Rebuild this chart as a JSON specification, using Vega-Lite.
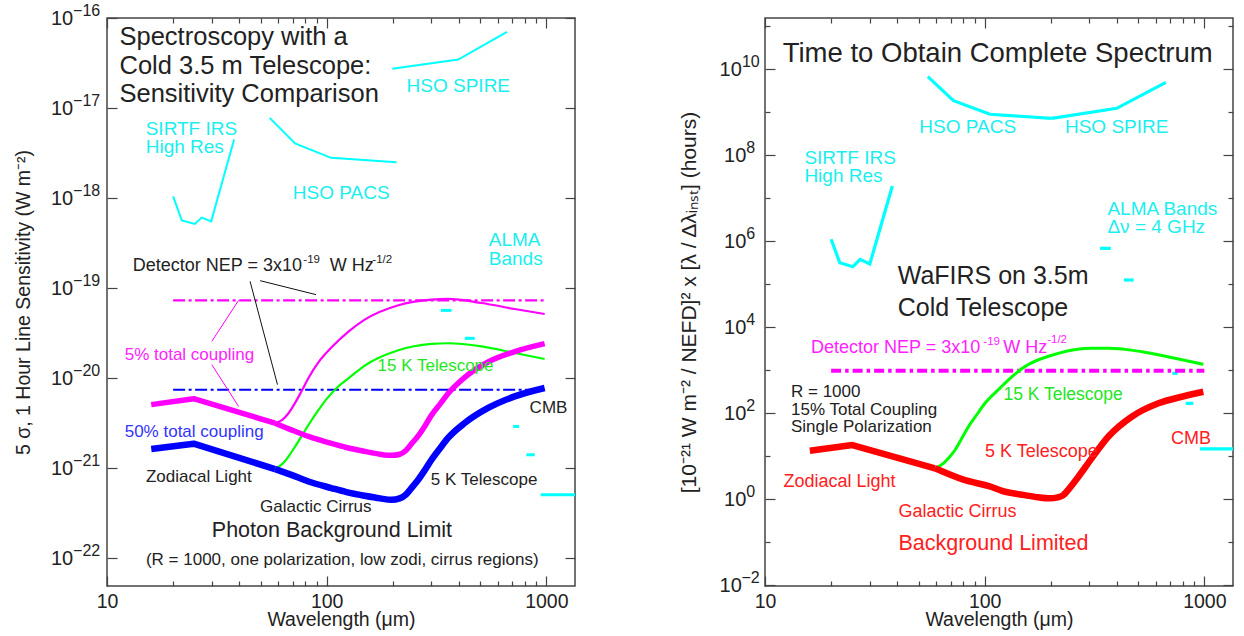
{
  "$schema": "https://vega.github.io/schema/vega-lite/v6.json",
  "background": "white",
  "padding": {"left": 12, "top": 1, "right": 5, "bottom": 5},
  "autosize": {"type": "pad"},
  "bounds": "flush",
  "spacing": 190,
  "config": {
    "view": {"stroke": "#444", "strokeWidth": 1.5},
    "font": "Liberation Sans",
    "axis": {"domain": false, "grid": false, "tickColor": "#444", "tickWidth": 1.2, "labelFont": "Liberation Sans", "labelFontSize": 19.5, "labelColor": "#222", "titleFont": "Liberation Sans", "titleFontSize": 19.5, "titleFontWeight": "normal", "titleColor": "#222", "labelOverlap": false, "labelFlush": false}
  },
  "datasets": {
    "L": [
      {"s": "sirtf", "x": 20.0, "y": 1.047e-18}, {"s": "sirtf", "x": 21.9, "y": 5.66e-19}, {"s": "sirtf", "x": 25.1, "y": 5.16e-19}, {"s": "sirtf", "x": 27.0, "y": 6.07e-19}, {"s": "sirtf", "x": 29.8, "y": 5.52e-19}, {"s": "sirtf", "x": 37.9, "y": 4.47e-18},
      {"s": "pacs", "x": 55, "y": 7.78e-18}, {"s": "pacs", "x": 71.8, "y": 4.04e-18}, {"s": "pacs", "x": 104.7, "y": 2.80e-18}, {"s": "pacs", "x": 208, "y": 2.50e-18},
      {"s": "spire", "x": 199, "y": 2.73e-17}, {"s": "spire", "x": 397, "y": 3.46e-17}, {"s": "spire", "x": 662, "y": 7.03e-17},
      {"s": "mag15", "x": 58.2, "y": 3.162e-21}, {"s": "mag15", "x": 63, "y": 3.467e-21}, {"s": "mag15", "x": 67, "y": 4.074e-21}, {"s": "mag15", "x": 72, "y": 5.370e-21}, {"s": "mag15", "x": 77, "y": 7.244e-21}, {"s": "mag15", "x": 83, "y": 1.023e-20}, {"s": "mag15", "x": 92, "y": 1.514e-20}, {"s": "mag15", "x": 105, "y": 2.188e-20}, {"s": "mag15", "x": 126, "y": 3.311e-20}, {"s": "mag15", "x": 149, "y": 4.467e-20}, {"s": "mag15", "x": 212, "y": 6.457e-20}, {"s": "mag15", "x": 300, "y": 7.447e-20}, {"s": "mag15", "x": 357, "y": 7.586e-20}, {"s": "mag15", "x": 507, "y": 6.839e-20}, {"s": "mag15", "x": 718, "y": 5.861e-20}, {"s": "mag15", "x": 982, "y": 5.164e-20},
      {"s": "grn15", "x": 58.2, "y": 9.795e-22}, {"s": "grn15", "x": 63.6, "y": 1.148e-21}, {"s": "grn15", "x": 67, "y": 1.349e-21}, {"s": "grn15", "x": 71.8, "y": 1.738e-21}, {"s": "grn15", "x": 77, "y": 2.291e-21}, {"s": "grn15", "x": 82.6, "y": 3.02e-21}, {"s": "grn15", "x": 92, "y": 4.467e-21}, {"s": "grn15", "x": 100, "y": 5.888e-21}, {"s": "grn15", "x": 112, "y": 7.943e-21}, {"s": "grn15", "x": 126, "y": 1.0e-20}, {"s": "grn15", "x": 149, "y": 1.380e-20}, {"s": "grn15", "x": 212, "y": 2.042e-20}, {"s": "grn15", "x": 300, "y": 2.399e-20}, {"s": "grn15", "x": 357, "y": 2.443e-20}, {"s": "grn15", "x": 507, "y": 2.254e-20}, {"s": "grn15", "x": 718, "y": 1.905e-20}, {"s": "grn15", "x": 982, "y": 1.633e-20},
      {"s": "magA", "x": 15.9, "y": 5.082e-21}, {"s": "magA", "x": 24.8, "y": 5.916e-21}, {"s": "magA", "x": 58.2, "y": 3.162e-21},
      {"s": "magB", "x": 58.2, "y": 3.162e-21}, {"s": "magB", "x": 70, "y": 2.630e-21}, {"s": "magB", "x": 82.6, "y": 2.254e-21}, {"s": "magB", "x": 105, "y": 1.884e-21}, {"s": "magB", "x": 123, "y": 1.698e-21}, {"s": "magB", "x": 149, "y": 1.538e-21}, {"s": "magB", "x": 175, "y": 1.429e-21}, {"s": "magB", "x": 197, "y": 1.390e-21}, {"s": "magB", "x": 215, "y": 1.429e-21}, {"s": "magB", "x": 230, "y": 1.585e-21}, {"s": "magB", "x": 245, "y": 1.905e-21}, {"s": "magB", "x": 261, "y": 2.291e-21}, {"s": "magB", "x": 280, "y": 2.951e-21}, {"s": "magB", "x": 300, "y": 3.890e-21}, {"s": "magB", "x": 330, "y": 5.248e-21}, {"s": "magB", "x": 357, "y": 6.761e-21}, {"s": "magB", "x": 425, "y": 1.023e-20}, {"s": "magB", "x": 543, "y": 1.514e-20}, {"s": "magB", "x": 718, "y": 1.972e-20}, {"s": "magB", "x": 982, "y": 2.415e-20},
      {"s": "bluA", "x": 15.9, "y": 1.633e-21}, {"s": "bluA", "x": 24.8, "y": 1.871e-21}, {"s": "bluA", "x": 58.2, "y": 9.795e-22},
      {"s": "bluB", "x": 58.2, "y": 9.795e-22}, {"s": "bluB", "x": 70, "y": 8.318e-22}, {"s": "bluB", "x": 82.6, "y": 7.129e-22}, {"s": "bluB", "x": 105, "y": 6.026e-22}, {"s": "bluB", "x": 123, "y": 5.433e-22}, {"s": "bluB", "x": 149, "y": 4.943e-22}, {"s": "bluB", "x": 175, "y": 4.624e-22}, {"s": "bluB", "x": 197, "y": 4.467e-22}, {"s": "bluB", "x": 215, "y": 4.624e-22}, {"s": "bluB", "x": 230, "y": 5.129e-22}, {"s": "bluB", "x": 245, "y": 6.166e-22}, {"s": "bluB", "x": 261, "y": 7.447e-22}, {"s": "bluB", "x": 280, "y": 9.550e-22}, {"s": "bluB", "x": 300, "y": 1.242e-21}, {"s": "bluB", "x": 330, "y": 1.698e-21}, {"s": "bluB", "x": 357, "y": 2.168e-21}, {"s": "bluB", "x": 425, "y": 3.177e-21}, {"s": "bluB", "x": 543, "y": 4.667e-21}, {"s": "bluB", "x": 718, "y": 6.281e-21}, {"s": "bluB", "x": 982, "y": 7.780e-21}
    ],
    "LS": [
      {"s": "alma", "x": 331, "x2": 370, "y": 5.66e-20, "y2": 5.66e-20},
      {"s": "alma", "x": 425, "x2": 472, "y": 2.77e-20, "y2": 2.77e-20},
      {"s": "alma", "x": 706, "x2": 752, "y": 2.91e-21, "y2": 2.91e-21},
      {"s": "alma", "x": 811, "x2": 885, "y": 1.41e-21, "y2": 1.41e-21},
      {"s": "alma", "x": 942, "x2": 1500, "y": 5.08e-22, "y2": 5.08e-22},
      {"s": "magdd", "x": 20, "x2": 1000, "y": 7.31e-20, "y2": 7.31e-20},
      {"s": "bludd", "x": 20, "x2": 860, "y": 7.45e-21, "y2": 7.45e-21},
      {"s": "blk", "x": 44.8, "x2": 59.7, "y": 1.19e-19, "y2": 8.47e-21},
      {"s": "blk", "x": 49.8, "x2": 89.4, "y": 1.21e-19, "y2": 8.47e-20},
      {"s": "magptr", "x": 30.0, "x2": 39.7, "y": 2.564e-20, "y2": 7.31e-20},
      {"s": "magptr", "x": 30.0, "x2": 39.7, "y": 1.413e-20, "y2": 4.86e-21}
    ],
    "LT": [
      {"t": "Spectroscopy with a", "x": 11.4, "y": 4.99e-17, "g": "title"},
      {"t": "Cold 3.5 m Telescope:", "x": 11.4, "y": 2.40e-17, "g": "title"},
      {"t": "Sensitivity Comparison", "x": 11.4, "y": 1.16e-17, "g": "title"},
      {"t": "SIRTF IRS", "x": 15.0, "y": 5.08e-18, "g": "cyan"},
      {"t": "High Res", "x": 15.0, "y": 3.16e-18, "g": "cyan"},
      {"t": "HSO PACS", "x": 70.1, "y": 9.87e-19, "g": "cyan"},
      {"t": "HSO SPIRE", "x": 231, "y": 1.50e-17, "g": "cyan"},
      {"t": "ALMA", "x": 547, "y": 2.96e-19, "g": "cyan"},
      {"t": "Bands", "x": 547, "y": 1.82e-19, "g": "cyan"},
      {"t": "Detector NEP = 3x10", "x": 13.09, "y": 1.54e-19, "g": "nep"},
      {"t": "-19", "x": 78.3, "y": 1.905e-19, "g": "nepsup"},
      {"t": "W Hz", "x": 103.2, "y": 1.54e-19, "g": "nep"},
      {"t": "-1/2", "x": 161.4, "y": 1.905e-19, "g": "nepsup"},
      {"t": "5% total coupling", "x": 12.04, "y": 1.58e-20, "g": "mag"},
      {"t": "50% total coupling", "x": 12.04, "y": 2.25e-21, "g": "blu"},
      {"t": "15 K Telescope", "x": 170.5, "y": 1.19e-20, "g": "grn"},
      {"t": "CMB", "x": 839, "y": 4.1e-21, "g": "blk"},
      {"t": "Zodiacal Light", "x": 15.04, "y": 6.95e-22, "g": "blk"},
      {"t": "5 K Telescope", "x": 298, "y": 6.44e-22, "g": "blk"},
      {"t": "Galactic Cirrus", "x": 49.75, "y": 3.26e-22, "g": "blk"},
      {"t": "Photon Background Limit", "x": 30.0, "y": 1.72e-22, "g": "big"},
      {"t": "(R = 1000, one polarization, low zodi, cirrus regions)", "x": 15.04, "y": 8.48e-23, "g": "blk"}
    ],
    "R": [
      {"s": "sirtf", "x": 20.0, "y": 1.096e6}, {"s": "sirtf", "x": 21.9, "y": 3.126e5}, {"s": "sirtf", "x": 25.1, "y": 2.523e5}, {"s": "sirtf", "x": 27.1, "y": 3.750e5}, {"s": "sirtf", "x": 30.0, "y": 2.917e5}, {"s": "sirtf", "x": 38.0, "y": 1.901e7},
      {"s": "pacs", "x": 55.1, "y": 6.63e9}, {"s": "pacs", "x": 72.1, "y": 1.83e9}, {"s": "pacs", "x": 105.7, "y": 8.85e8}, {"s": "pacs", "x": 202, "y": 7.13e8},
      {"s": "spire", "x": 202, "y": 7.13e8}, {"s": "spire", "x": 399, "y": 1.22e9}, {"s": "spire", "x": 668, "y": 4.91e9},
      {"s": "grn15", "x": 59.4, "y": 5.176}, {"s": "grn15", "x": 64.9, "y": 6.761}, {"s": "grn15", "x": 69, "y": 9.333}, {"s": "grn15", "x": 73.3, "y": 13.80}, {"s": "grn15", "x": 78, "y": 23.99}, {"s": "grn15", "x": 84.3, "y": 47.97}, {"s": "grn15", "x": 92, "y": 91.20}, {"s": "grn15", "x": 100.3, "y": 168.3}, {"s": "grn15", "x": 117.4, "y": 380.2}, {"s": "grn15", "x": 128, "y": 584.8}, {"s": "grn15", "x": 152, "y": 1194}, {"s": "grn15", "x": 216, "y": 2443}, {"s": "grn15", "x": 307, "y": 3199}, {"s": "grn15", "x": 365, "y": 3199}, {"s": "grn15", "x": 519, "y": 2667}, {"s": "grn15", "x": 735, "y": 1871}, {"s": "grn15", "x": 989, "y": 1358},
      {"s": "redA", "x": 16.0, "y": 13.27}, {"s": "redA", "x": 25.0, "y": 18.03}, {"s": "redA", "x": 59.4, "y": 5.176},
      {"s": "redB", "x": 59.4, "y": 5.176}, {"s": "redB", "x": 80, "y": 2.818}, {"s": "redB", "x": 107.6, "y": 1.905}, {"s": "redB", "x": 120, "y": 1.549}, {"s": "redB", "x": 152, "y": 1.230}, {"s": "redB", "x": 175, "y": 1.096}, {"s": "redB", "x": 198, "y": 1.038}, {"s": "redB", "x": 215, "y": 1.096}, {"s": "redB", "x": 228, "y": 1.239}, {"s": "redB", "x": 245, "y": 1.862}, {"s": "redB", "x": 267, "y": 3.304}, {"s": "redB", "x": 307, "y": 8.851}, {"s": "redB", "x": 365, "y": 28.12}, {"s": "redB", "x": 467, "y": 82.04}, {"s": "redB", "x": 618, "y": 168.3}, {"s": "redB", "x": 789, "y": 239.3}, {"s": "redB", "x": 989, "y": 312.6}
    ],
    "RS": [
      {"s": "alma", "x": 335, "x2": 375, "y": 6.76e5, "y2": 6.76e5},
      {"s": "alma", "x": 430, "x2": 476, "y": 1.24e5, "y2": 1.24e5},
      {"s": "alma", "x": 715, "x2": 755, "y": 838, "y2": 838},
      {"s": "alma", "x": 822, "x2": 891, "y": 168, "y2": 168},
      {"s": "alma", "x": 955, "x2": 1500, "y": 14.6, "y2": 14.6},
      {"s": "magdd", "x": 20, "x2": 1000, "y": 964, "y2": 964}
    ],
    "RT": [
      {"t": "Time to Obtain Complete Spectrum", "x": 12.04, "y": 1.48e10, "g": "title"},
      {"t": "HSO PACS", "x": 50.4, "y": 3.2e8, "g": "cyan"},
      {"t": "HSO SPIRE", "x": 232, "y": 3.2e8, "g": "cyan"},
      {"t": "SIRTF IRS", "x": 15.11, "y": 6.18e7, "g": "cyan"},
      {"t": "High Res", "x": 15.11, "y": 2.3e7, "g": "cyan"},
      {"t": "ALMA Bands", "x": 362, "y": 4.03e6, "g": "cyan"},
      {"t": "Δν = 4 GHz", "x": 362, "y": 1.51e6, "g": "cyan"},
      {"t": "WaFIRS on 3.5m", "x": 40.2, "y": 1.02e5, "g": "wa"},
      {"t": "Cold Telescope", "x": 40.2, "y": 1.77e4, "g": "wa"},
      {"t": "Detector NEP = 3x10", "x": 16.2, "y": 2440, "g": "nep"},
      {"t": "-19", "x": 98.6, "y": 3810, "g": "nepsup"},
      {"t": "W Hz", "x": 121.4, "y": 2440, "g": "nep"},
      {"t": "-1/2", "x": 192.5, "y": 4250, "g": "nepsup"},
      {"t": "R = 1000", "x": 13.13, "y": 239, "g": "blk"},
      {"t": "15% Total Coupling", "x": 13.13, "y": 89.7, "g": "blk"},
      {"t": "Single Polarization", "x": 13.13, "y": 36.7, "g": "blk"},
      {"t": "15 K Telescope", "x": 121.7, "y": 200, "g": "grn"},
      {"t": "5 K Telescope", "x": 100.3, "y": 9.64, "g": "red"},
      {"t": "CMB", "x": 705, "y": 19.0, "g": "red"},
      {"t": "Zodiacal Light", "x": 12.13, "y": 1.93, "g": "red"},
      {"t": "Galactic Cirrus", "x": 40.5, "y": 0.387, "g": "red"},
      {"t": "Background Limited", "x": 40.5, "y": 0.0652, "g": "redbig"}
    ]
  },
  "hconcat": [
    {
      "width": 468,
      "height": 568,
      "resolve": {"axis": {"x": "independent", "y": "independent"}},
      "layer": [
        {
          "data": {"name": "L"},
          "transform": [{"filter": "datum.s == 'sirtf' || datum.s == 'pacs' || datum.s == 'spire'"}],
          "mark": {"type": "line", "color": "#00ffff", "strokeWidth": 2, "clip": true},
          "encoding": {
            "x": {"field": "x", "type": "quantitative", "scale": {"type": "log", "domain": [10, 1350], "nice": false},
              "axis": {"orient": "bottom", "values": [10, 20, 30, 40, 50, 60, 70, 80, 90, 100, 200, 300, 400, 500, 600, 700, 800, 900, 1000], "labelExpr": "datum.value == 10 ? '10' : datum.value == 100 ? '100' : datum.value == 1000 ? '1000' : ''", "tickSize": {"condition": {"test": "datum.value == 10 || datum.value == 100 || datum.value == 1000", "value": -10}, "value": -5}, "labelPadding": 16, "title": "Wavelength (μm)", "titleY": 24.5, "titleBaseline": "top"}},
            "y": {"field": "y", "type": "quantitative", "scale": {"type": "log", "domain": [4.92e-23, 1e-16], "nice": false},
              "axis": {"orient": "left", "values": [1e-22, 1e-21, 1e-20, 1e-19, 1e-18, 1e-17, 1e-16], "labelExpr": "'10'", "labelFontSize": 20, "tickSize": -10, "labelPadding": 44.3, "title": "5 σ, 1 Hour Line Sensitivity (W m⁻²)", "titleX": -73.9, "titleBaseline": "bottom"}},
            "detail": {"field": "s"}
          }
        },
        {
          "data": {"name": "LS"},
          "transform": [{"filter": "datum.s == 'alma'"}],
          "mark": {"type": "rule", "color": "#00ffff", "strokeWidth": 3, "clip": true},
          "encoding": {
            "x": {"field": "x", "type": "quantitative", "scale": {"type": "log", "domain": [10, 1350], "nice": false},
              "axis": {"orient": "top", "values": [10, 20, 30, 40, 50, 60, 70, 80, 90, 100, 200, 300, 400, 500, 600, 700, 800, 900, 1000], "labels": false, "tickSize": {"condition": {"test": "datum.value == 10 || datum.value == 100 || datum.value == 1000", "value": -10}, "value": -5}, "title": null}},
            "x2": {"field": "x2"},
            "y": {"field": "y", "type": "quantitative", "scale": {"type": "log", "domain": [4.92e-23, 1e-16], "nice": false},
              "axis": {"orient": "right", "values": [1e-22, 1e-21, 1e-20, 1e-19, 1e-18, 1e-17, 1e-16], "labels": false, "tickSize": -10, "title": null}},
            "y2": {"field": "y2"}
          }
        },
        {
          "data": {"name": "LS"},
          "transform": [{"filter": "datum.s == 'magdd'"}],
          "mark": {"type": "rule", "color": "#ff00ff", "strokeWidth": 2.2, "strokeDash": [12, 3.5, 3, 3.5], "clip": true},
          "encoding": {"x": {"field": "x", "type": "quantitative", "scale": {"type": "log", "domain": [10, 1350], "nice": false}, "axis": null}, "x2": {"field": "x2"},
            "y": {"field": "y", "type": "quantitative", "scale": {"type": "log", "domain": [4.92e-23, 1e-16], "nice": false},
              "axis": {"orient": "left", "values": [1e-22, 1e-21, 1e-20, 1e-19, 1e-18, 1e-17, 1e-16], "labelExpr": "['−22','−21','−20','−19','−18','−17','−16'][round(log(datum.value)/LN10)+22]", "labelFontSize": 16, "labelOffset": -7.8, "tickSize": -10, "tickOpacity": 0, "labelPadding": 17.3, "title": null}},
            "y2": {"field": "y2"}}
        },
        {
          "data": {"name": "LS"},
          "transform": [{"filter": "datum.s == 'bludd'"}],
          "mark": {"type": "rule", "color": "#0000ff", "strokeWidth": 2, "strokeDash": [12, 3.5, 3, 3.5], "clip": true},
          "encoding": {"x": {"field": "x", "type": "quantitative", "scale": {"type": "log", "domain": [10, 1350], "nice": false}, "axis": null}, "x2": {"field": "x2"}, "y": {"field": "y", "type": "quantitative", "scale": {"type": "log", "domain": [4.92e-23, 1e-16], "nice": false}, "axis": null}, "y2": {"field": "y2"}}
        },
        {
          "data": {"name": "LS"},
          "transform": [{"filter": "datum.s == 'blk'"}],
          "mark": {"type": "rule", "color": "#111", "strokeWidth": 1, "clip": true},
          "encoding": {"x": {"field": "x", "type": "quantitative", "scale": {"type": "log", "domain": [10, 1350], "nice": false}, "axis": null}, "x2": {"field": "x2"}, "y": {"field": "y", "type": "quantitative", "scale": {"type": "log", "domain": [4.92e-23, 1e-16], "nice": false}, "axis": null}, "y2": {"field": "y2"}}
        },
        {
          "data": {"name": "LS"},
          "transform": [{"filter": "datum.s == 'magptr'"}],
          "mark": {"type": "rule", "color": "#ff00ff", "strokeWidth": 1, "clip": true},
          "encoding": {"x": {"field": "x", "type": "quantitative", "scale": {"type": "log", "domain": [10, 1350], "nice": false}, "axis": null}, "x2": {"field": "x2"}, "y": {"field": "y", "type": "quantitative", "scale": {"type": "log", "domain": [4.92e-23, 1e-16], "nice": false}, "axis": null}, "y2": {"field": "y2"}}
        },
        {
          "data": {"name": "L"},
          "transform": [{"filter": "datum.s == 'mag15'"}],
          "mark": {"type": "line", "color": "#ff00ff", "strokeWidth": 2.2, "interpolate": "monotone", "clip": true},
          "encoding": {"x": {"field": "x", "type": "quantitative", "scale": {"type": "log", "domain": [10, 1350], "nice": false}, "axis": null}, "y": {"field": "y", "type": "quantitative", "scale": {"type": "log", "domain": [4.92e-23, 1e-16], "nice": false}, "axis": null}}
        },
        {
          "data": {"name": "L"},
          "transform": [{"filter": "datum.s == 'grn15'"}],
          "mark": {"type": "line", "color": "#00ff00", "strokeWidth": 2.2, "interpolate": "monotone", "clip": true},
          "encoding": {"x": {"field": "x", "type": "quantitative", "scale": {"type": "log", "domain": [10, 1350], "nice": false}, "axis": null}, "y": {"field": "y", "type": "quantitative", "scale": {"type": "log", "domain": [4.92e-23, 1e-16], "nice": false}, "axis": null}}
        },
        {
          "data": {"name": "L"},
          "transform": [{"filter": "datum.s == 'magA'"}],
          "mark": {"type": "line", "color": "#ff00ff", "strokeWidth": 5.5, "strokeJoin": "round", "clip": true},
          "encoding": {"x": {"field": "x", "type": "quantitative", "scale": {"type": "log", "domain": [10, 1350], "nice": false}, "axis": null}, "y": {"field": "y", "type": "quantitative", "scale": {"type": "log", "domain": [4.92e-23, 1e-16], "nice": false}, "axis": null}}
        },
        {
          "data": {"name": "L"},
          "transform": [{"filter": "datum.s == 'magB'"}],
          "mark": {"type": "line", "color": "#ff00ff", "strokeWidth": 5.5, "interpolate": "monotone", "clip": true},
          "encoding": {"x": {"field": "x", "type": "quantitative", "scale": {"type": "log", "domain": [10, 1350], "nice": false}, "axis": null}, "y": {"field": "y", "type": "quantitative", "scale": {"type": "log", "domain": [4.92e-23, 1e-16], "nice": false}, "axis": null}}
        },
        {
          "data": {"name": "L"},
          "transform": [{"filter": "datum.s == 'bluA'"}],
          "mark": {"type": "line", "color": "#0000ff", "strokeWidth": 6.5, "strokeJoin": "round", "clip": true},
          "encoding": {"x": {"field": "x", "type": "quantitative", "scale": {"type": "log", "domain": [10, 1350], "nice": false}, "axis": null}, "y": {"field": "y", "type": "quantitative", "scale": {"type": "log", "domain": [4.92e-23, 1e-16], "nice": false}, "axis": null}}
        },
        {
          "data": {"name": "L"},
          "transform": [{"filter": "datum.s == 'bluB'"}],
          "mark": {"type": "line", "color": "#0000ff", "strokeWidth": 6.5, "interpolate": "monotone", "clip": true},
          "encoding": {"x": {"field": "x", "type": "quantitative", "scale": {"type": "log", "domain": [10, 1350], "nice": false}, "axis": null}, "y": {"field": "y", "type": "quantitative", "scale": {"type": "log", "domain": [4.92e-23, 1e-16], "nice": false}, "axis": null}}
        },
        {
          "data": {"name": "LT"},
          "transform": [{"filter": "datum.g == 'title'"}],
          "mark": {"type": "text", "align": "left", "baseline": "alphabetic", "font": "Liberation Sans", "fontSize": 25.5, "color": "#222"},
          "encoding": {"x": {"field": "x", "type": "quantitative", "scale": {"type": "log", "domain": [10, 1350], "nice": false}, "axis": null}, "y": {"field": "y", "type": "quantitative", "scale": {"type": "log", "domain": [4.92e-23, 1e-16], "nice": false}, "axis": null}, "text": {"field": "t"}}
        },
        {
          "data": {"name": "LT"},
          "transform": [{"filter": "datum.g == 'cyan'"}],
          "mark": {"type": "text", "align": "left", "baseline": "alphabetic", "font": "Liberation Sans", "fontSize": 19, "color": "#1aeeee"},
          "encoding": {"x": {"field": "x", "type": "quantitative", "scale": {"type": "log", "domain": [10, 1350], "nice": false}, "axis": null}, "y": {"field": "y", "type": "quantitative", "scale": {"type": "log", "domain": [4.92e-23, 1e-16], "nice": false}, "axis": null}, "text": {"field": "t"}}
        },
        {
          "data": {"name": "LT"},
          "transform": [{"filter": "datum.g == 'blk'"}],
          "mark": {"type": "text", "align": "left", "baseline": "alphabetic", "font": "Liberation Sans", "fontSize": 17, "color": "#222"},
          "encoding": {"x": {"field": "x", "type": "quantitative", "scale": {"type": "log", "domain": [10, 1350], "nice": false}, "axis": null}, "y": {"field": "y", "type": "quantitative", "scale": {"type": "log", "domain": [4.92e-23, 1e-16], "nice": false}, "axis": null}, "text": {"field": "t"}}
        },
        {
          "data": {"name": "LT"},
          "transform": [{"filter": "datum.g == 'nep'"}],
          "mark": {"type": "text", "align": "left", "baseline": "alphabetic", "font": "Liberation Sans", "fontSize": 18, "color": "#222"},
          "encoding": {"x": {"field": "x", "type": "quantitative", "scale": {"type": "log", "domain": [10, 1350], "nice": false}, "axis": null}, "y": {"field": "y", "type": "quantitative", "scale": {"type": "log", "domain": [4.92e-23, 1e-16], "nice": false}, "axis": null}, "text": {"field": "t"}}
        },
        {
          "data": {"name": "LT"},
          "transform": [{"filter": "datum.g == 'nepsup'"}],
          "mark": {"type": "text", "align": "left", "baseline": "alphabetic", "font": "Liberation Sans", "fontSize": 11.5, "color": "#222"},
          "encoding": {"x": {"field": "x", "type": "quantitative", "scale": {"type": "log", "domain": [10, 1350], "nice": false}, "axis": null}, "y": {"field": "y", "type": "quantitative", "scale": {"type": "log", "domain": [4.92e-23, 1e-16], "nice": false}, "axis": null}, "text": {"field": "t"}}
        },
        {
          "data": {"name": "LT"},
          "transform": [{"filter": "datum.g == 'mag'"}],
          "mark": {"type": "text", "align": "left", "baseline": "alphabetic", "font": "Liberation Sans", "fontSize": 17, "color": "#ff22ff"},
          "encoding": {"x": {"field": "x", "type": "quantitative", "scale": {"type": "log", "domain": [10, 1350], "nice": false}, "axis": null}, "y": {"field": "y", "type": "quantitative", "scale": {"type": "log", "domain": [4.92e-23, 1e-16], "nice": false}, "axis": null}, "text": {"field": "t"}}
        },
        {
          "data": {"name": "LT"},
          "transform": [{"filter": "datum.g == 'blu'"}],
          "mark": {"type": "text", "align": "left", "baseline": "alphabetic", "font": "Liberation Sans", "fontSize": 17, "color": "#3333ff"},
          "encoding": {"x": {"field": "x", "type": "quantitative", "scale": {"type": "log", "domain": [10, 1350], "nice": false}, "axis": null}, "y": {"field": "y", "type": "quantitative", "scale": {"type": "log", "domain": [4.92e-23, 1e-16], "nice": false}, "axis": null}, "text": {"field": "t"}}
        },
        {
          "data": {"name": "LT"},
          "transform": [{"filter": "datum.g == 'grn'"}],
          "mark": {"type": "text", "align": "left", "baseline": "alphabetic", "font": "Liberation Sans", "fontSize": 17, "color": "#22e622"},
          "encoding": {"x": {"field": "x", "type": "quantitative", "scale": {"type": "log", "domain": [10, 1350], "nice": false}, "axis": null}, "y": {"field": "y", "type": "quantitative", "scale": {"type": "log", "domain": [4.92e-23, 1e-16], "nice": false}, "axis": null}, "text": {"field": "t"}}
        },
        {
          "data": {"name": "LT"},
          "transform": [{"filter": "datum.g == 'big'"}],
          "mark": {"type": "text", "align": "left", "baseline": "alphabetic", "font": "Liberation Sans", "fontSize": 21.5, "color": "#222"},
          "encoding": {"x": {"field": "x", "type": "quantitative", "scale": {"type": "log", "domain": [10, 1350], "nice": false}, "axis": null}, "y": {"field": "y", "type": "quantitative", "scale": {"type": "log", "domain": [4.92e-23, 1e-16], "nice": false}, "axis": null}, "text": {"field": "t"}}
        }
      ]
    },
    {
      "width": 468,
      "height": 568,
      "resolve": {"axis": {"x": "independent", "y": "independent"}},
      "layer": [
        {
          "data": {"name": "R"},
          "transform": [{"filter": "datum.s == 'sirtf' || datum.s == 'pacs' || datum.s == 'spire'"}],
          "mark": {"type": "line", "color": "#00ffff", "strokeWidth": 3.2, "clip": true},
          "encoding": {
            "x": {"field": "x", "type": "quantitative", "scale": {"type": "log", "domain": [10, 1350], "nice": false},
              "axis": {"orient": "bottom", "values": [10, 20, 30, 40, 50, 60, 70, 80, 90, 100, 200, 300, 400, 500, 600, 700, 800, 900, 1000], "labelExpr": "datum.value == 10 ? '10' : datum.value == 100 ? '100' : datum.value == 1000 ? '1000' : ''", "tickSize": {"condition": {"test": "datum.value == 10 || datum.value == 100 || datum.value == 1000", "value": -10}, "value": -5}, "labelPadding": 16, "title": "Wavelength (μm)", "titleY": 24.5, "titleBaseline": "top"}},
            "y": {"field": "y", "type": "quantitative", "scale": {"type": "log", "domain": [0.0095, 1.535e11], "nice": false},
              "axis": {"orient": "left", "values": [0.01, 0.1, 1, 10, 100, 1000, 10000, 100000, 1000000, 10000000, 100000000, 1000000000, 10000000000, 100000000000], "labelExpr": "round(log(datum.value)/LN10) % 2 == 0 ? '10' : ''", "labelFontSize": 20, "tickSize": {"condition": {"test": "round(log(datum.value)/LN10) % 2 == 0", "value": -10}, "value": -5}, "labelPadding": {"condition": {"test": "round(log(datum.value)/LN10) == 10 || round(log(datum.value)/LN10) == -2", "value": 33.7}, "value": 29.2}, "title": "[10⁻²¹ W m⁻² / NEFD]²  x  [λ / Δλᵢₙₛₜ]   (hours)", "titleFontSize": 21, "titleX": -65.3, "titleBaseline": "bottom"}},
            "detail": {"field": "s"}
          }
        },
        {
          "data": {"name": "RS"},
          "transform": [{"filter": "datum.s == 'alma'"}],
          "mark": {"type": "rule", "color": "#00ffff", "strokeWidth": 3.2, "clip": true},
          "encoding": {
            "x": {"field": "x", "type": "quantitative", "scale": {"type": "log", "domain": [10, 1350], "nice": false},
              "axis": {"orient": "top", "values": [10, 20, 30, 40, 50, 60, 70, 80, 90, 100, 200, 300, 400, 500, 600, 700, 800, 900, 1000], "labels": false, "tickSize": {"condition": {"test": "datum.value == 10 || datum.value == 100 || datum.value == 1000", "value": -10}, "value": -5}, "title": null}},
            "x2": {"field": "x2"},
            "y": {"field": "y", "type": "quantitative", "scale": {"type": "log", "domain": [0.0095, 1.535e11], "nice": false},
              "axis": {"orient": "right", "values": [0.01, 0.1, 1, 10, 100, 1000, 10000, 100000, 1000000, 10000000, 100000000, 1000000000, 10000000000, 100000000000], "labels": false, "tickSize": {"condition": {"test": "round(log(datum.value)/LN10) % 2 == 0", "value": -10}, "value": -5}, "title": null}},
            "y2": {"field": "y2"}
          }
        },
        {
          "data": {"name": "RS"},
          "transform": [{"filter": "datum.s == 'magdd'"}],
          "mark": {"type": "rule", "color": "#ff00ff", "strokeWidth": 4, "strokeDash": [10, 4, 3.5, 4], "clip": true},
          "encoding": {"x": {"field": "x", "type": "quantitative", "scale": {"type": "log", "domain": [10, 1350], "nice": false}, "axis": null}, "x2": {"field": "x2"},
            "y": {"field": "y", "type": "quantitative", "scale": {"type": "log", "domain": [0.0095, 1.535e11], "nice": false},
              "axis": {"orient": "left", "values": [0.01, 0.1, 1, 10, 100, 1000, 10000, 100000, 1000000, 10000000, 100000000, 1000000000, 10000000000, 100000000000], "labelExpr": "['−2','','0','','2','','4','','6','','8','','10',''][round(log(datum.value)/LN10)+2]", "labelFontSize": 16, "labelOffset": -7.8, "tickSize": -10, "tickOpacity": 0, "labelPadding": {"condition": {"test": "round(log(datum.value)/LN10) == 10 || round(log(datum.value)/LN10) == -2", "value": 15.8}, "value": 20.3}, "title": null}},
            "y2": {"field": "y2"}}
        },
        {
          "data": {"name": "R"},
          "transform": [{"filter": "datum.s == 'grn15'"}],
          "mark": {"type": "line", "color": "#00ff00", "strokeWidth": 3, "interpolate": "monotone", "clip": true},
          "encoding": {"x": {"field": "x", "type": "quantitative", "scale": {"type": "log", "domain": [10, 1350], "nice": false}, "axis": null}, "y": {"field": "y", "type": "quantitative", "scale": {"type": "log", "domain": [0.0095, 1.535e11], "nice": false}, "axis": null}}
        },
        {
          "data": {"name": "R"},
          "transform": [{"filter": "datum.s == 'redA'"}],
          "mark": {"type": "line", "color": "#ff0000", "strokeWidth": 6.5, "strokeJoin": "round", "clip": true},
          "encoding": {"x": {"field": "x", "type": "quantitative", "scale": {"type": "log", "domain": [10, 1350], "nice": false}, "axis": null}, "y": {"field": "y", "type": "quantitative", "scale": {"type": "log", "domain": [0.0095, 1.535e11], "nice": false}, "axis": null}}
        },
        {
          "data": {"name": "R"},
          "transform": [{"filter": "datum.s == 'redB'"}],
          "mark": {"type": "line", "color": "#ff0000", "strokeWidth": 6.5, "interpolate": "monotone", "clip": true},
          "encoding": {"x": {"field": "x", "type": "quantitative", "scale": {"type": "log", "domain": [10, 1350], "nice": false}, "axis": null}, "y": {"field": "y", "type": "quantitative", "scale": {"type": "log", "domain": [0.0095, 1.535e11], "nice": false}, "axis": null}}
        },
        {
          "data": {"name": "RT"},
          "transform": [{"filter": "datum.g == 'title'"}],
          "mark": {"type": "text", "align": "left", "baseline": "alphabetic", "font": "Liberation Sans", "fontSize": 27.5, "color": "#222"},
          "encoding": {"x": {"field": "x", "type": "quantitative", "scale": {"type": "log", "domain": [10, 1350], "nice": false}, "axis": null}, "y": {"field": "y", "type": "quantitative", "scale": {"type": "log", "domain": [0.0095, 1.535e11], "nice": false}, "axis": null}, "text": {"field": "t"}}
        },
        {
          "data": {"name": "RT"},
          "transform": [{"filter": "datum.g == 'cyan'"}],
          "mark": {"type": "text", "align": "left", "baseline": "alphabetic", "font": "Liberation Sans", "fontSize": 19, "color": "#1aeeee"},
          "encoding": {"x": {"field": "x", "type": "quantitative", "scale": {"type": "log", "domain": [10, 1350], "nice": false}, "axis": null}, "y": {"field": "y", "type": "quantitative", "scale": {"type": "log", "domain": [0.0095, 1.535e11], "nice": false}, "axis": null}, "text": {"field": "t"}}
        },
        {
          "data": {"name": "RT"},
          "transform": [{"filter": "datum.g == 'wa'"}],
          "mark": {"type": "text", "align": "left", "baseline": "alphabetic", "font": "Liberation Sans", "fontSize": 25, "color": "#222"},
          "encoding": {"x": {"field": "x", "type": "quantitative", "scale": {"type": "log", "domain": [10, 1350], "nice": false}, "axis": null}, "y": {"field": "y", "type": "quantitative", "scale": {"type": "log", "domain": [0.0095, 1.535e11], "nice": false}, "axis": null}, "text": {"field": "t"}}
        },
        {
          "data": {"name": "RT"},
          "transform": [{"filter": "datum.g == 'nep'"}],
          "mark": {"type": "text", "align": "left", "baseline": "alphabetic", "font": "Liberation Sans", "fontSize": 18, "color": "#ff22ff"},
          "encoding": {"x": {"field": "x", "type": "quantitative", "scale": {"type": "log", "domain": [10, 1350], "nice": false}, "axis": null}, "y": {"field": "y", "type": "quantitative", "scale": {"type": "log", "domain": [0.0095, 1.535e11], "nice": false}, "axis": null}, "text": {"field": "t"}}
        },
        {
          "data": {"name": "RT"},
          "transform": [{"filter": "datum.g == 'nepsup'"}],
          "mark": {"type": "text", "align": "left", "baseline": "alphabetic", "font": "Liberation Sans", "fontSize": 11.5, "color": "#ff22ff"},
          "encoding": {"x": {"field": "x", "type": "quantitative", "scale": {"type": "log", "domain": [10, 1350], "nice": false}, "axis": null}, "y": {"field": "y", "type": "quantitative", "scale": {"type": "log", "domain": [0.0095, 1.535e11], "nice": false}, "axis": null}, "text": {"field": "t"}}
        },
        {
          "data": {"name": "RT"},
          "transform": [{"filter": "datum.g == 'blk'"}],
          "mark": {"type": "text", "align": "left", "baseline": "alphabetic", "font": "Liberation Sans", "fontSize": 17, "color": "#222"},
          "encoding": {"x": {"field": "x", "type": "quantitative", "scale": {"type": "log", "domain": [10, 1350], "nice": false}, "axis": null}, "y": {"field": "y", "type": "quantitative", "scale": {"type": "log", "domain": [0.0095, 1.535e11], "nice": false}, "axis": null}, "text": {"field": "t"}}
        },
        {
          "data": {"name": "RT"},
          "transform": [{"filter": "datum.g == 'grn'"}],
          "mark": {"type": "text", "align": "left", "baseline": "alphabetic", "font": "Liberation Sans", "fontSize": 17.5, "color": "#22e622"},
          "encoding": {"x": {"field": "x", "type": "quantitative", "scale": {"type": "log", "domain": [10, 1350], "nice": false}, "axis": null}, "y": {"field": "y", "type": "quantitative", "scale": {"type": "log", "domain": [0.0095, 1.535e11], "nice": false}, "axis": null}, "text": {"field": "t"}}
        },
        {
          "data": {"name": "RT"},
          "transform": [{"filter": "datum.g == 'red'"}],
          "mark": {"type": "text", "align": "left", "baseline": "alphabetic", "font": "Liberation Sans", "fontSize": 18, "color": "#ff2020"},
          "encoding": {"x": {"field": "x", "type": "quantitative", "scale": {"type": "log", "domain": [10, 1350], "nice": false}, "axis": null}, "y": {"field": "y", "type": "quantitative", "scale": {"type": "log", "domain": [0.0095, 1.535e11], "nice": false}, "axis": null}, "text": {"field": "t"}}
        },
        {
          "data": {"name": "RT"},
          "transform": [{"filter": "datum.g == 'redbig'"}],
          "mark": {"type": "text", "align": "left", "baseline": "alphabetic", "font": "Liberation Sans", "fontSize": 21.5, "color": "#ff2020"},
          "encoding": {"x": {"field": "x", "type": "quantitative", "scale": {"type": "log", "domain": [10, 1350], "nice": false}, "axis": null}, "y": {"field": "y", "type": "quantitative", "scale": {"type": "log", "domain": [0.0095, 1.535e11], "nice": false}, "axis": null}, "text": {"field": "t"}}
        }
      ]
    }
  ]
}
